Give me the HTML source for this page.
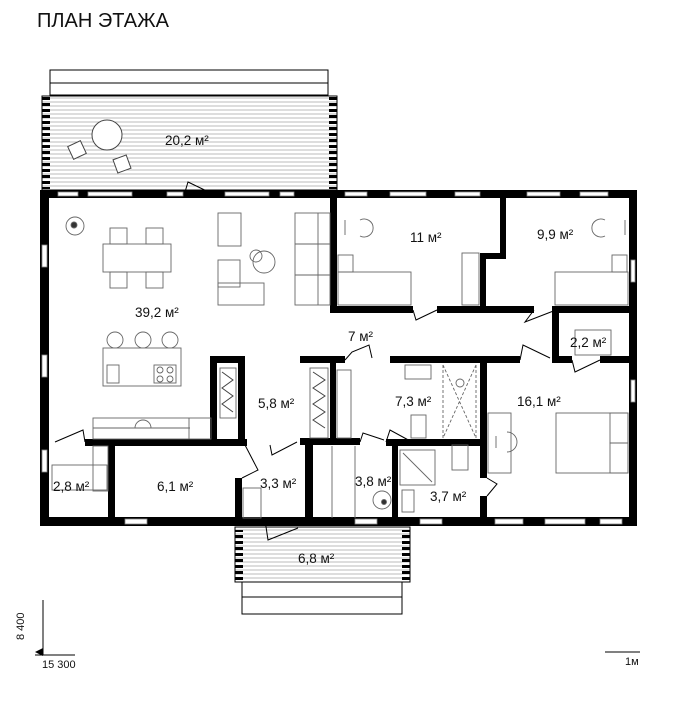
<!DOCTYPE html>
<html><head><meta charset="utf-8">
<style>
html,body{margin:0;padding:0;background:#fff;}
svg{display:block}
text{font-family:"Liberation Sans","DejaVu Sans",sans-serif;fill:#111}
</style></head>
<body>
<svg width="674" height="708" viewBox="0 0 674 708" xmlns="http://www.w3.org/2000/svg">
<defs>
<pattern id="h" width="10" height="4" patternUnits="userSpaceOnUse">
<rect width="10" height="4" fill="#fff"/><line x1="0" y1="2" x2="10" y2="2" stroke="#bbb" stroke-width="1"/>
</pattern>
<pattern id="tick" width="8" height="6" patternUnits="userSpaceOnUse">
<rect x="0" y="1" width="8" height="3" fill="#000"/>
</pattern>
</defs>
<text x="37" y="27" font-size="20">ПЛАН ЭТАЖА</text>

<!-- top terrace -->
<rect x="50" y="70" width="278" height="25" fill="#fff" stroke="#000" stroke-width="1"/>
<line x1="50" y1="83" x2="328" y2="83" stroke="#000"/>
<rect x="42" y="96" width="295" height="94" fill="url(#h)" stroke="#000" stroke-width="1"/>
<rect x="42" y="97" width="8" height="92" fill="url(#tick)"/>
<rect x="329" y="97" width="8" height="92" fill="url(#tick)"/>
<text x="165" y="145" font-size="13.5">20,2 м²</text>
<circle cx="107" cy="135" r="15" fill="#fff" stroke="#444"/>
<rect x="70" y="143" width="14" height="14" fill="#fff" stroke="#444" transform="rotate(-25 77 150)"/>
<rect x="115" y="157" width="14" height="14" fill="#fff" stroke="#444" transform="rotate(-20 122 164)"/>
<path d="M185 192 L188 182 L215 195" fill="none" stroke="#000"/>

<!-- bottom terrace -->
<rect x="242" y="582" width="160" height="32" fill="#fff" stroke="#000"/>
<line x1="242" y1="597" x2="402" y2="597" stroke="#000"/>
<rect x="235" y="527" width="175" height="55" fill="url(#h)" stroke="#000"/>
<rect x="235" y="530" width="8" height="50" fill="url(#tick)"/>
<rect x="402" y="530" width="8" height="50" fill="url(#tick)"/>
<text x="298" y="563" font-size="13.5">6,8 м²</text>
<path d="M265 520 L268 540 L298 528" fill="none" stroke="#000"/>

<g fill="#000">
<rect x="40" y="190" width="9" height="336"/>
<rect x="40" y="190" width="597" height="8"/>
<rect x="629" y="190" width="8" height="336"/>
<rect x="40" y="517" width="597" height="9"/>
<rect x="330" y="190" width="7" height="122"/>
<rect x="330" y="306" width="83" height="7"/>
<rect x="437" y="306" width="97" height="7"/>
<rect x="558" y="306" width="71" height="7"/>
<rect x="500" y="198" width="6" height="60"/>
<rect x="480" y="253" width="26" height="6"/>
<rect x="480" y="253" width="6" height="56"/>
<rect x="552" y="306" width="7" height="56"/>
<rect x="552" y="356" width="20" height="7"/>
<rect x="600" y="356" width="29" height="7"/>
<rect x="300" y="356" width="45" height="7"/>
<rect x="390" y="356" width="130" height="7"/>
<rect x="210" y="356" width="35" height="7"/>
<rect x="480" y="358" width="7" height="120"/>
<rect x="480" y="496" width="7" height="24"/>
<rect x="330" y="358" width="6" height="84"/>
<rect x="386" y="439" width="100" height="7"/>
<rect x="300" y="438" width="60" height="7"/>
<rect x="210" y="356" width="7" height="84"/>
<rect x="238" y="356" width="7" height="84"/>
<rect x="40" y="439" width="8" height="6"/>
<rect x="85" y="439" width="150" height="7"/>
<rect x="235" y="439" width="12" height="7"/>
<rect x="108" y="445" width="7" height="75"/>
<rect x="235" y="478" width="7" height="42"/>
<rect x="305" y="440" width="8" height="80"/>
<rect x="392" y="442" width="6" height="76"/>
</g>

<g fill="#fff" stroke="#888" stroke-width="0.8">
<rect x="58" y="192" width="20" height="4"/><rect x="88" y="192" width="44" height="4"/>
<rect x="167" y="192" width="16" height="4"/>
<rect x="225" y="192" width="44" height="4"/><rect x="280" y="192" width="14" height="4"/>
<rect x="345" y="192" width="22" height="4"/><rect x="390" y="192" width="36" height="4"/>
<rect x="455" y="192" width="25" height="4"/>
<rect x="527" y="192" width="33" height="4"/><rect x="580" y="192" width="28" height="4"/>
<rect x="42" y="245" width="5" height="22"/><rect x="42" y="355" width="5" height="22"/>
<rect x="42" y="450" width="5" height="22"/>
<rect x="125" y="519" width="22" height="5"/><rect x="355" y="519" width="22" height="5"/>
<rect x="420" y="519" width="22" height="5"/><rect x="495" y="519" width="28" height="5"/>
<rect x="545" y="519" width="40" height="5"/><rect x="600" y="519" width="22" height="5"/>
<rect x="631" y="260" width="4" height="22"/><rect x="631" y="380" width="4" height="22"/>
</g>

<g fill="none" stroke="#000" stroke-width="1">
<path d="M413 310 L416 320 L437 310"/>
<path d="M534 310 L525 322 L556 310"/>
<path d="M345 360 L352 352 L369 345 L372 358"/>
<path d="M520 360 L523 345 L550 358"/>
<path d="M572 360 L575 372 L600 360"/>
<path d="M386 442 L390 430 L412 442"/>
<path d="M360 442 L363 433 L384 440"/>
<path d="M55 442 L83 430 L85 442"/>
<path d="M245 445 L258 470 L242 478"/>
<path d="M270 445 L272 455 L297 442"/>
<path d="M487 478 L497 484 L487 496"/>
</g>

<g fill="none" stroke="#666" stroke-width="0.9">
<circle cx="75" cy="226" r="9"/><circle cx="74" cy="225" r="3" fill="#333"/>
<rect x="103" y="244" width="68" height="28"/>
<rect x="110" y="228" width="17" height="16"/><rect x="146" y="228" width="17" height="16"/>
<rect x="110" y="272" width="17" height="16"/><rect x="146" y="272" width="17" height="16"/>
<rect x="218" y="213" width="23" height="33"/>
<rect x="218" y="260" width="22" height="27"/><rect x="218" y="283" width="46" height="22"/>
<circle cx="264" cy="262" r="11"/><circle cx="256" cy="256" r="6"/>
<rect x="295" y="213" width="35" height="92"/><line x1="318" y1="213" x2="318" y2="305"/>
<line x1="295" y1="244" x2="330" y2="244"/><line x1="295" y1="275" x2="330" y2="275"/>
<circle cx="115" cy="340" r="8"/><circle cx="143" cy="340" r="8"/><circle cx="170" cy="340" r="8"/>
<rect x="103" y="348" width="78" height="38" fill="#fff"/>
<rect x="107" y="365" width="12" height="18"/><rect x="154" y="365" width="22" height="18"/>
<circle cx="160" cy="370" r="3"/><circle cx="170" cy="370" r="3"/><circle cx="160" cy="379" r="3"/><circle cx="170" cy="379" r="3"/>
<rect x="93" y="418" width="118" height="21"/><line x1="93" y1="428" x2="190" y2="428"/>
<line x1="189" y1="418" x2="189" y2="439"/>
<path d="M135 428 A8 8 0 0 1 151 428"/>
<rect x="220" y="368" width="16" height="50"/>
<rect x="310" y="368" width="18" height="70"/>
<rect x="337" y="370" width="14" height="68"/>
<rect x="338" y="272" width="73" height="33"/><rect x="338" y="255" width="15" height="17"/>
<path d="M360 220 A9 9 0 1 1 360 236"/><line x1="345" y1="220" x2="345" y2="235"/>
<rect x="462" y="253" width="17" height="52"/>
<rect x="555" y="272" width="73" height="33"/><rect x="612" y="255" width="15" height="17"/>
<path d="M605 220 A9 9 0 1 0 605 236"/><line x1="625" y1="220" x2="625" y2="235"/>
<rect x="575" y="330" width="36" height="25"/>
<rect x="405" y="365" width="26" height="14"/>
<line x1="443" y1="365" x2="443" y2="438" stroke-dasharray="3 2"/><line x1="476" y1="365" x2="476" y2="438" stroke-dasharray="3 2"/>
<line x1="443" y1="365" x2="476" y2="438" stroke-dasharray="3 2"/><line x1="476" y1="365" x2="443" y2="438" stroke-dasharray="3 2"/>
<circle cx="460" cy="383" r="4"/>
<rect x="411" y="415" width="15" height="23"/>
<rect x="400" y="450" width="35" height="35"/><line x1="403" y1="453" x2="432" y2="482"/>
<rect x="452" y="445" width="16" height="25"/>
<rect x="402" y="490" width="12" height="22"/>
<circle cx="382" cy="500" r="9"/><circle cx="384" cy="502" r="2.5" fill="#333"/>
<rect x="488" y="413" width="23" height="60"/>
<path d="M507 432 A10 10 0 0 1 507 452"/><line x1="496" y1="436" x2="496" y2="448"/>
<rect x="556" y="413" width="72" height="60"/>
<rect x="610" y="413" width="18" height="30"/><rect x="610" y="443" width="18" height="30"/>
<rect x="52" y="465" width="55" height="25"/><rect x="93" y="446" width="15" height="45"/>
<rect x="243" y="488" width="18" height="30"/>
<line x1="332" y1="446" x2="332" y2="518"/><line x1="355" y1="446" x2="355" y2="518"/>
</g>
<g stroke="#444" stroke-width="1">
<path d="M222 372 L233 380 L222 388 L233 396 L222 404 L233 412" fill="none"/>
<path d="M313 372 L325 380 L313 388 L325 396 L313 404 L325 412 L313 420 L325 428" fill="none"/>
</g>

<g font-size="13.5">
<text x="135" y="317">39,2 м²</text>
<text x="410" y="242">11 м²</text>
<text x="537" y="239">9,9 м²</text>
<text x="348" y="341">7 м²</text>
<text x="570" y="347">2,2 м²</text>
<text x="258" y="408">5,8 м²</text>
<text x="395" y="406">7,3 м²</text>
<text x="517" y="406">16,1 м²</text>
<text x="53" y="491">2,8 м²</text>
<text x="157" y="491">6,1 м²</text>
<text x="260" y="488">3,3 м²</text>
<text x="355" y="486">3,8 м²</text>
<text x="430" y="501">3,7 м²</text>
</g>

<line x1="43" y1="600" x2="43" y2="655" stroke="#000"/>
<line x1="35" y1="655" x2="75" y2="655" stroke="#000"/>
<path d="M35 652 L43 648 L43 656 Z" fill="#000"/>
<text x="24" y="640" font-size="11" transform="rotate(-90 24 640)">8 400</text>
<text x="42" y="668" font-size="11">15 300</text>
<line x1="605" y1="652" x2="640" y2="652" stroke="#000"/>
<text x="625" y="665" font-size="11">1м</text>
</svg>
</body></html>
